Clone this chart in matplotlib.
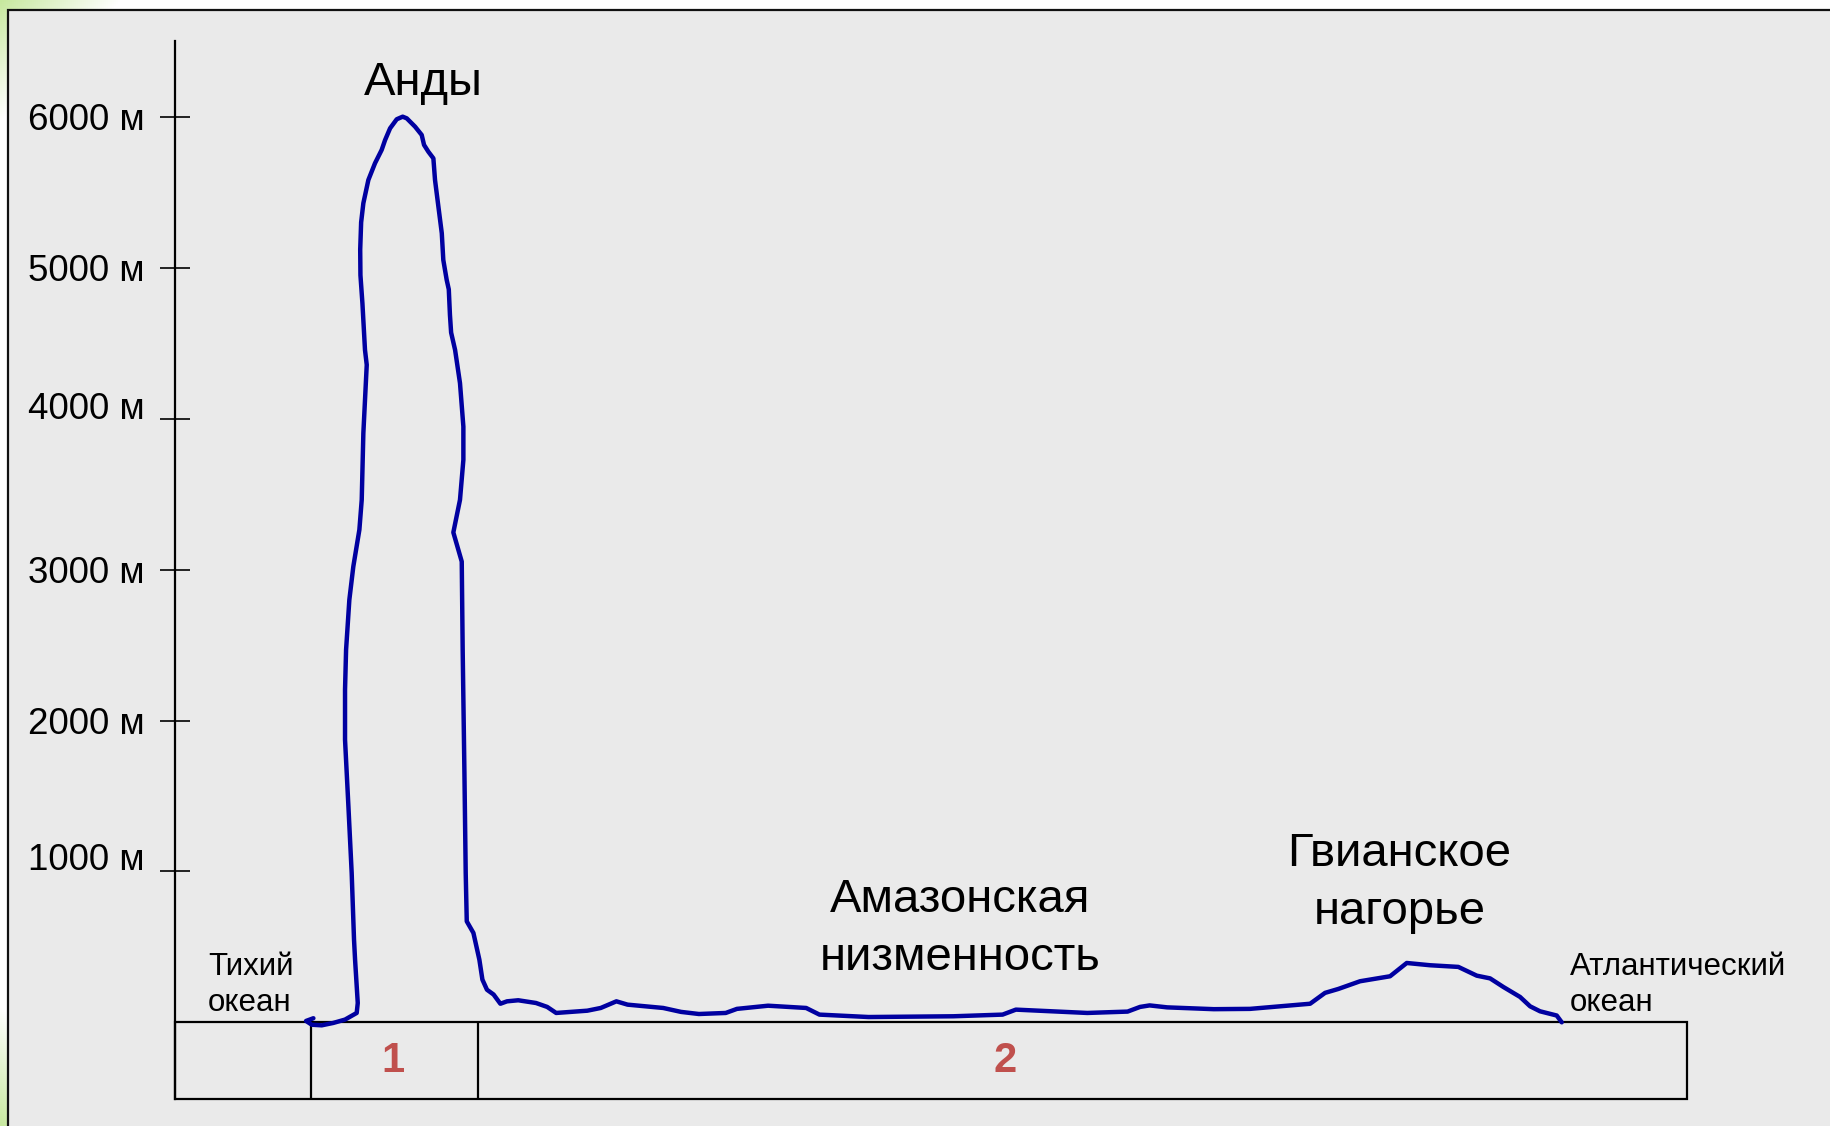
import numpy as np
import matplotlib
matplotlib.use("Agg")
import matplotlib.pyplot as plt
from matplotlib.patches import Rectangle

# ---------------- data ----------------
# distance along the profile (arbitrary units, 0 = left axis) and elevation in metres
distance = [118.5, 112.2, 117.1, 125.6, 135.6, 145.6, 155.6, 156.5, 154.2, 153.3,
            151.3, 148.5, 145.6, 145.6, 146.5, 149.3, 152.7, 157.9, 159.9, 161.3,
            164.2, 162.7, 160.5, 158.8, 158.6, 159.4, 161.3, 165.6, 171.3, 177.0, 179.9,
            184.2, 189.9, 195.0, 198.5, 205.6, 211.3, 213.3, 217.0, 221.3, 222.7,
            225.6, 228.5, 229.8, 232.7, 234.5, 235.5, 236.5, 239.9, 244.1, 247.0,
            247.0, 244.1, 238.4, 245.6, 246.4, 247.9, 249.0, 249.9, 255.6, 260.7,
            263.3, 267.2, 272.9, 278.7, 284.4, 294.0, 309.2, 318.8, 326.5, 353.2,
            364.7, 378.1, 387.7, 418.2, 433.5, 448.8, 471.8, 481.4, 508.1, 540.7,
            552.1, 594.2, 666.9, 709.0, 720.4, 781.6, 816.1, 826.8, 835.0, 850.0,
            890.0, 921.0, 972.5, 985.3, 996.7, 1015.3, 1041.0, 1055.3, 1075.3, 1099.5,
            1115.3, 1126.7, 1138.1, 1152.4, 1161.0, 1169.5, 1183.8, 1188.1]
elevation = [28, 10, -15, -19, -3, 19, 63, 129, 416, 549,
             990, 1431, 1873, 2204, 2469, 2800, 3020, 3264, 3462, 3903,
             4356, 4455, 4764, 4950, 5120, 5300, 5427, 5581, 5692, 5780, 5845,
             5923, 5983, 6000, 5989, 5934, 5879, 5813, 5768, 5724, 5581,
             5404, 5228, 5051, 4919, 4856, 4686, 4570, 4455, 4235, 3947,
             3727, 3462, 3246, 3053, 2469, 1652, 990, 670, 593, 416,
             284, 217, 185, 124, 140, 147, 129, 103, 63, 78,
             96, 140, 118, 96, 70, 56, 63, 90, 111, 96,
             52, 36, 41, 52, 85, 63, 72, 103, 113, 100,
             88, 90, 124, 196, 222, 273, 306, 394, 379, 368,
             310, 292, 235, 169, 107, 74, 46, 1]

tick_values = [1000, 2000, 3000, 4000, 5000, 6000]
tick_labels = ["1000 м", "2000 м", "3000 м", "4000 м", "5000 м", "6000 м"]
label_nudge = [70, -25, -25, 60, -25, -25]   # labels sit slightly off their ticks

section_edges = [0, 116.5, 259.6, 1295]    # strip below the profile
section_names = ["1", "2"]
section_label_x = [187, 711]

region_names = ["Анды", "Амазонская\nнизменность", "Гвианское\nнагорье"]
region_xy = [(213, 6225), (673, 621), (1049, 923)]
ocean_names = ["Тихий\nокеан", "Атлантический\nокеан"]
ocean_xy = [(28, 250), (1195, 250)]

# ---------------- figure ----------------
plt.rcParams['font.family'] = ['Liberation Sans', 'DejaVu Sans']
W, H = 1830, 1126
fig = plt.figure(figsize=(W / 100, H / 100), dpi=100, facecolor='white')

# slide background with a faint green corner and the grey framed panel
bg = fig.add_axes([0, 0, 1, 1])
bg.axis('off')
bg.set_xlim(0, W)
bg.set_ylim(H, 0)
yy, xx = np.mgrid[0:H:2, 0:W:2]
w1 = np.clip(1 - (xx + yy) / 120.0, 0, 1)
w2 = np.clip(1 - (xx + (H - yy)) / 120.0, 0, 1)
wt = np.maximum(w1, w2)[..., None]
green = np.array([0.78, 0.91, 0.62])
img = (1 - wt) * np.ones(3) + wt * green
bg.imshow(img, extent=[0, W, H, 0], aspect='auto', zorder=0)
bg.add_patch(Rectangle((8, 10), W, H, facecolor='#EAEAEA', edgecolor='#111111',
                       lw=1.6, zorder=1))

# main axes
ax = fig.add_axes([175.1 / W, 27 / H, (1686.5 - 175.1) / W, (1099 - 40.9) / H])
ax.patch.set_alpha(0)
ax.set_xlim(0, section_edges[-1])
ax.set_ylim(-507, 6502)
for s in ['top', 'right', 'bottom']:
    ax.spines[s].set_visible(False)
ax.spines['left'].set_linewidth(1.6)
ax.set_xticks([])
ax.set_yticks(tick_values)
ax.set_yticklabels([])
ax.tick_params(axis='y', direction='inout', length=21.6, width=1.2, color='black')

for v, lab, nd in zip(tick_values, tick_labels, label_nudge):
    ax.text(-26, v + nd, lab, ha='right', va='center', fontsize=26.5,
            color='black', clip_on=False)

# strip with sections
ybot = ax.get_ylim()[0]
ax.add_patch(Rectangle((0, ybot), section_edges[-1], -ybot, fill=False,
                       edgecolor='black', lw=1.6, clip_on=False, zorder=2))
ax.vlines(section_edges[1:-1], ybot, 0, colors='black', lw=1.6, zorder=2)
for name, xc in zip(section_names, section_label_x):
    ax.text(xc, ybot / 2, name, ha='center', va='center', fontsize=30,
            fontweight='bold', color='#C0504D')

# profile
ax.plot(distance, elevation, color='#0000A0', lw=3.2, solid_joinstyle='round',
        solid_capstyle='round', clip_on=False, zorder=3)

for name, (x, y) in zip(region_names, region_xy):
    ax.text(x, y, name, ha='center', va='center', fontsize=34, color='black',
            linespacing=1.4, multialignment='center')
for name, (x, y) in zip(ocean_names, ocean_xy):
    ax.text(x, y, name, ha='left', va='center', fontsize=22.5, color='black',
            linespacing=1.27)

fig.savefig('out.png', dpi=100, facecolor='white')
